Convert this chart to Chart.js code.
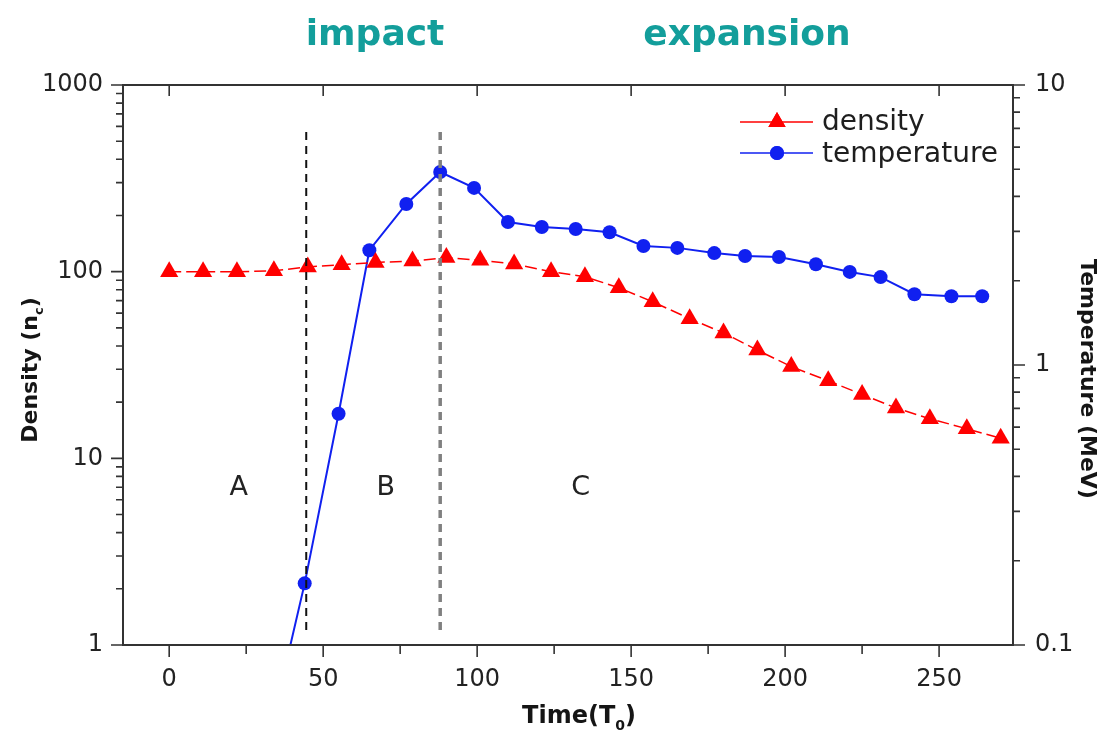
<!DOCTYPE html>
<html lang="en">
<head>
  <meta charset="UTF-8" />
  <title>Density and temperature vs time</title>
  <script src="https://cdn.jsdelivr.net/npm/chart.js"></script>
  <style>
    body { margin: 0; background: #fff; }
    #wrap { position: relative; width: 1104px; height: 736px; }
  </style>
</head>
<body>
  <div id="wrap"><canvas id="chart" width="1104" height="736"></canvas></div>

  <script>
    // density (n_c) vs time (T_0)
    const densityTimes = [0, 11, 22, 34, 45, 56, 67, 79, 90, 101, 112, 124, 135, 146, 157, 169, 180, 191, 202, 214, 225, 236, 247, 259, 270];
    const densityValues = [100, 100, 100, 101, 106, 109, 112, 114, 119, 115, 110, 100, 94, 82, 69, 56, 47, 38, 31, 26, 22, 18.6, 16.3, 14.4, 12.8];

    // temperature (MeV) vs time (T_0)
    const tempTimes = [33, 44, 55, 65, 77, 88, 99, 110, 121, 132, 143, 154, 165, 177, 187, 198, 210, 221, 231, 242, 254, 264];
    const tempValues = [0.05, 0.166, 0.67, 2.57, 3.76, 4.89, 4.29, 3.24, 3.11, 3.06, 2.98, 2.66, 2.62, 2.51, 2.45, 2.43, 2.29, 2.15, 2.06, 1.79, 1.76, 1.76];

    // phase boundaries (time) and region labels
    const boundaryTimes = [44.5, 88];
    const regionLabels = ['A', 'B', 'C'];
    const regionLabelTimes = [22.6, 70.3, 133.6];

    const xTicks = [0, 25, 50, 75, 100, 125, 150, 175, 200, 225, 250];
    const densityTicks = [1, 2, 3, 4, 5, 6, 7, 8, 9, 10, 20, 30, 40, 50, 60, 70, 80, 90, 100, 200, 300, 400, 500, 600, 700, 800, 900, 1000];
    const tempTicks = [0.1, 0.2, 0.3, 0.4, 0.5, 0.6, 0.7, 0.8, 0.9, 1, 2, 3, 4, 5, 6, 7, 8, 9, 10];

    const RED = '#ff0000';
    const BLUE = '#1020f0';
    const AXIS = '#333';
    const FONT = "'DejaVu Sans', Verdana, sans-serif";

    const isDecade = v => Math.abs(Math.log10(v) - Math.round(Math.log10(v))) < 1e-9;

    function setTicks(values, isMajor) {
      return scale => { scale.ticks = values.map(v => ({ value: v, major: isMajor(v) })); };
    }

    // bold text with a subscript part: [before, sub, after], centred on x
    function subText(ctx, parts, x, y, size) {
      const big = 'bold ' + size + 'px ' + FONT;
      const small = 'bold ' + Math.round(size * 0.6) + 'px ' + FONT;
      ctx.font = big; const w1 = ctx.measureText(parts[0]).width; const w3 = ctx.measureText(parts[2]).width;
      ctx.font = small; const w2 = ctx.measureText(parts[1]).width;
      let cx = x - (w1 + w2 + w3) / 2;
      ctx.textAlign = 'left'; ctx.textBaseline = 'middle';
      ctx.font = big; ctx.fillText(parts[0], cx, y); cx += w1;
      ctx.font = small; ctx.fillText(parts[1], cx, y + size * 0.4); cx += w2;
      ctx.font = big; ctx.fillText(parts[2], cx, y);
    }

    const decorations = {
      id: 'decorations',
      afterDraw(chart) {
        const ctx = chart.ctx;
        const a = chart.chartArea;
        const xs = chart.scales.x, yl = chart.scales.y, yr = chart.scales.y2;
        ctx.save();

        // frame
        ctx.strokeStyle = AXIS; ctx.lineWidth = 2;
        ctx.strokeRect(a.left, a.top, a.right - a.left, a.bottom - a.top);

        // tick marks
        ctx.lineWidth = 1.6;
        ctx.beginPath();
        xs.ticks.forEach(t => {
          const px = xs.getPixelForValue(t.value);
          ctx.moveTo(px, a.bottom); ctx.lineTo(px, a.bottom + (t.major ? 12 : 9));
          if (t.major) { ctx.moveTo(px, a.top); ctx.lineTo(px, a.top + 11); }
        });
        yl.ticks.forEach(t => {
          const py = yl.getPixelForValue(t.value);
          ctx.moveTo(a.left - (t.major ? 12 : 7), py); ctx.lineTo(a.left, py);
        });
        yr.ticks.forEach(t => {
          const py = yr.getPixelForValue(t.value);
          ctx.moveTo(a.right, py); ctx.lineTo(a.right + (t.major ? 12 : 7), py);
        });
        ctx.stroke();

        // region labels
        ctx.fillStyle = '#222';
        ctx.font = '27px ' + FONT;
        ctx.textAlign = 'center'; ctx.textBaseline = 'middle';
        regionLabels.forEach((lab, i) => {
          ctx.fillText(lab, xs.getPixelForValue(regionLabelTimes[i]), yl.getPixelForValue(6.9));
        });

        // axis titles
        ctx.fillStyle = '#151515';
        subText(ctx, ['Time(T', '0', ')'], 579, 717, 24);
        ctx.save();
        ctx.translate(31, 370); ctx.rotate(-Math.PI / 2);
        subText(ctx, ['Density (n', 'c', ')'], 0, 0, 22);
        ctx.restore();
        ctx.save();
        ctx.translate(1087, 379); ctx.rotate(Math.PI / 2);
        ctx.font = 'bold 22px ' + FONT; ctx.textAlign = 'center'; ctx.textBaseline = 'middle';
        ctx.fillText('Temperature (MeV)', 0, 0);
        ctx.restore();

        // legend
        const lx = 740, lw = 73;
        [[RED, 'triangle', 'density', 122, 130, 10], [BLUE, 'circle', 'temperature', 153, 162, 7]].forEach(([c, style, text, ly, by, r]) => {
          ctx.strokeStyle = c; ctx.lineWidth = 1.5;
          ctx.beginPath(); ctx.moveTo(lx, ly); ctx.lineTo(lx + lw, ly); ctx.stroke();
          ctx.fillStyle = c;
          Chart.helpers.drawPoint(ctx, { pointStyle: style, radius: r, borderWidth: 0 }, lx + 37, ly);
          ctx.fill();
          ctx.fillStyle = '#1e1e1e'; ctx.font = '28px ' + FONT;
          ctx.textAlign = 'left'; ctx.textBaseline = 'alphabetic';
          ctx.fillText(text, 822, by);
        });

        // phase titles
        ctx.fillStyle = '#139e9b';
        ctx.font = 'bold 36px ' + FONT;
        ctx.textAlign = 'center'; ctx.textBaseline = 'alphabetic';
        ctx.fillText('impact', 375, 45);
        ctx.fillText('expansion', 747, 45);
        ctx.restore();
      }
    };

    new Chart(document.getElementById('chart'), {
      type: 'line',
      data: {
        datasets: [
          {
            label: 'boundary1',
            data: [{ x: boundaryTimes[0], y: 560 }, { x: boundaryTimes[0], y: 1.17 }],
            yAxisID: 'y', borderColor: '#111', borderWidth: 2, borderDash: [8, 6], pointRadius: 0
          },
          {
            label: 'boundary2',
            data: [{ x: boundaryTimes[1], y: 560 }, { x: boundaryTimes[1], y: 1.17 }],
            yAxisID: 'y', borderColor: '#808080', borderWidth: 3.5, borderDash: [8, 6], pointRadius: 0
          },
          {
            label: 'density',
            data: densityTimes.map((t, i) => ({ x: t, y: densityValues[i] })),
            yAxisID: 'y', borderColor: RED, backgroundColor: RED, borderWidth: 1.5, borderDash: [12, 5],
            pointStyle: 'triangle', pointRadius: 10.5, pointBorderWidth: 0
          },
          {
            label: 'temperature',
            data: tempTimes.map((t, i) => ({ x: t, y: tempValues[i] })),
            yAxisID: 'y2', borderColor: BLUE, backgroundColor: BLUE, borderWidth: 2,
            pointStyle: 'circle', pointRadius: 7, pointBorderWidth: 0
          }
        ]
      },
      options: {
        responsive: false,
        animation: false,
        layout: { padding: { top: 85, left: 0, right: 0, bottom: 0 } },
        plugins: { legend: { display: false }, tooltip: { enabled: false } },
        scales: {
          x: {
            type: 'linear', min: -15, max: 274,
            afterBuildTicks: setTicks(xTicks, v => v % 50 === 0),
            afterFit: s => { s.height = 91; },
            grid: { display: false, drawTicks: false }, border: { display: false },
            ticks: { autoSkip: false, maxRotation: 0, padding: 20, color: '#222', font: { family: FONT, size: 24 },
              callback: v => (v % 50 === 0 ? String(v) : '') }
          },
          y: {
            type: 'logarithmic', position: 'left', min: 1, max: 1000,
            afterBuildTicks: setTicks(densityTicks, isDecade),
            afterFit: s => { s.width = 123; },
            grid: { display: false, drawTicks: false }, border: { display: false },
            ticks: { autoSkip: false, padding: 20, color: '#222', font: { family: FONT, size: 24 },
              callback: v => (isDecade(v) ? String(v) : '') }
          },
          y2: {
            type: 'logarithmic', position: 'right', min: 0.1, max: 10,
            afterBuildTicks: setTicks(tempTicks, isDecade),
            afterFit: s => { s.width = 91; },
            grid: { display: false, drawTicks: false }, border: { display: false },
            ticks: { autoSkip: false, padding: 22, color: '#222', font: { family: FONT, size: 24 },
              callback: v => (isDecade(v) ? String(v) : '') }
          }
        }
      },
      plugins: [decorations]
    });
  </script>
</body>
</html>
